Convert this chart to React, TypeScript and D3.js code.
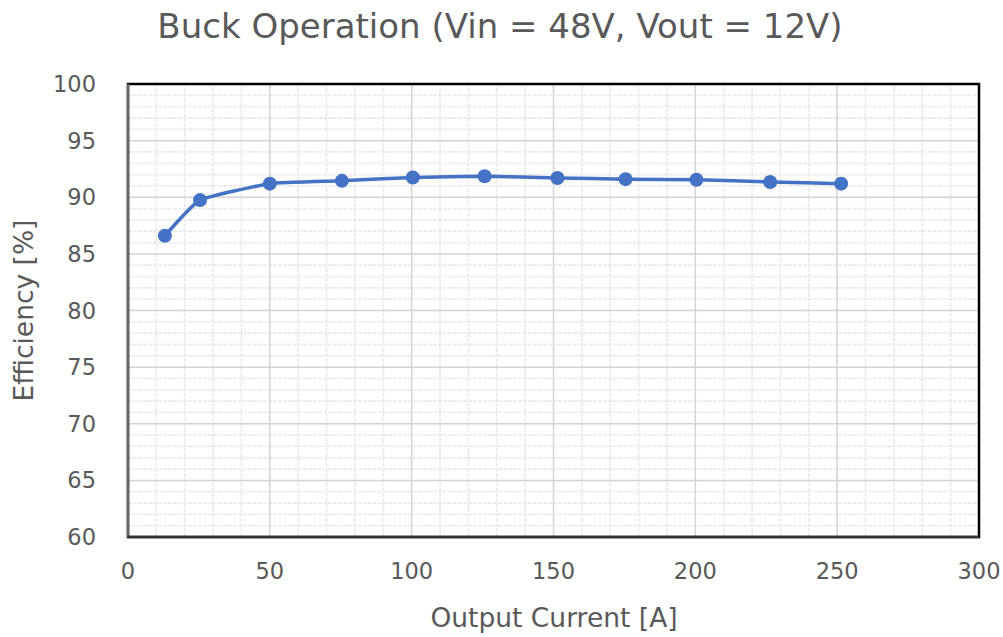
import React, { useRef, useEffect } from "react";
import * as d3 from "d3";

// Output current [A] and efficiency [%]
const currents = [13, 25.4, 50, 75.4, 100.4, 125.7, 151.4, 175.4, 200.4, 226.4, 251.4];
const efficiency = [86.6, 89.75, 91.2, 91.45, 91.75, 91.85, 91.7, 91.6, 91.55, 91.35, 91.2];
const xTicks = [0, 50, 100, 150, 200, 250, 300];
const yTicks = [60, 65, 70, 75, 80, 85, 90, 95, 100];

const App: React.FC = () => {
  const ref = useRef<SVGSVGElement | null>(null);

  useEffect(() => {
    const width = 1003;
    const height = 637;
    const margin = { top: 84, right: 24, bottom: 100, left: 128 };
    const font = "'DejaVu Sans', 'Noto Sans', sans-serif";
    const grey = "#595959";

    const svg = d3.select(ref.current);
    svg.selectAll("*").remove();
    svg.attr("width", width).attr("height", height);

    svg.append("rect").attr("width", width).attr("height", height).attr("fill", "#fff");

    const x = d3.scaleLinear().domain([0, 300]).range([margin.left, width - margin.right]);
    const y = d3.scaleLinear().domain([60, 100]).range([height - margin.bottom, margin.top]);

    const g = svg.append("g");

    // minor grid
    g.selectAll("line.xminor")
      .data(d3.range(0, 301, 10).filter((v) => v % 50 !== 0))
      .enter()
      .append("line")
      .attr("x1", (d) => x(d))
      .attr("x2", (d) => x(d))
      .attr("y1", y(60))
      .attr("y2", y(100))
      .attr("stroke", "#ebebeb")
      .attr("stroke-width", 1.8)
      .attr("stroke-dasharray", "4,1");
    g.selectAll("line.yminor")
      .data(d3.range(60, 101, 1).filter((v) => v % 5 !== 0))
      .enter()
      .append("line")
      .attr("x1", x(0))
      .attr("x2", x(300))
      .attr("y1", (d) => y(d))
      .attr("y2", (d) => y(d))
      .attr("stroke", "#ebebeb")
      .attr("stroke-width", 1.8)
      .attr("stroke-dasharray", "4,1");

    // major grid
    g.selectAll("line.xmajor")
      .data(xTicks)
      .enter()
      .append("line")
      .attr("x1", (d) => x(d))
      .attr("x2", (d) => x(d))
      .attr("y1", y(60))
      .attr("y2", y(100))
      .attr("stroke", "#d3d3d3")
      .attr("stroke-width", 1.5);
    g.selectAll("line.ymajor")
      .data(yTicks)
      .enter()
      .append("line")
      .attr("x1", x(0))
      .attr("x2", x(300))
      .attr("y1", (d) => y(d))
      .attr("y2", (d) => y(d))
      .attr("stroke", "#d3d3d3")
      .attr("stroke-width", 1.5);

    // plot border
    g.append("rect")
      .attr("x", x(0))
      .attr("y", y(100))
      .attr("width", x(300) - x(0))
      .attr("height", y(60) - y(100))
      .attr("fill", "none")
      .attr("stroke", "#000")
      .attr("stroke-width", 2.5);
    g.append("line")
      .attr("x1", x(0))
      .attr("x2", x(0))
      .attr("y1", y(60))
      .attr("y2", y(100))
      .attr("stroke", "#666")
      .attr("stroke-width", 2.5);
    g.append("line")
      .attr("x1", x(0))
      .attr("x2", x(300))
      .attr("y1", y(60))
      .attr("y2", y(60))
      .attr("stroke", "#333")
      .attr("stroke-width", 2.5);

    // tick labels
    g.selectAll("text.xt")
      .data(xTicks)
      .enter()
      .append("text")
      .attr("x", (d) => x(d))
      .attr("y", y(60) + 42)
      .attr("text-anchor", "middle")
      .attr("font-family", font)
      .attr("font-size", 22.5)
      .attr("fill", grey)
      .text((d) => d);
    g.selectAll("text.yt")
      .data(yTicks)
      .enter()
      .append("text")
      .attr("x", x(0) - 32)
      .attr("y", (d) => y(d))
      .attr("dy", "0.36em")
      .attr("text-anchor", "end")
      .attr("font-family", font)
      .attr("font-size", 22.5)
      .attr("fill", grey)
      .text((d) => d);

    // titles
    svg.append("text")
      .attr("x", 500)
      .attr("y", 38)
      .attr("text-anchor", "middle")
      .attr("font-family", font)
      .attr("font-size", 34)
      .attr("fill", grey)
      .text("Buck Operation (Vin = 48V, Vout = 12V)");
    svg.append("text")
      .attr("x", 554)
      .attr("y", 627)
      .attr("text-anchor", "middle")
      .attr("font-family", font)
      .attr("font-size", 26.5)
      .attr("fill", grey)
      .text("Output Current [A]");
    svg.append("text")
      .attr("transform", `translate(33, ${(y(60) + y(100)) / 2}) rotate(-90)`)
      .attr("text-anchor", "middle")
      .attr("font-family", font)
      .attr("font-size", 26.5)
      .attr("fill", grey)
      .text("Efficiency [%]");

    // series
    const pts = currents.map((c, i) => [c, efficiency[i]] as [number, number]);
    const line = d3
      .line<[number, number]>()
      .x((d) => x(d[0]))
      .y((d) => y(d[1]))
      .curve(d3.curveCardinal.tension(0.6));
    g.append("path")
      .attr("d", line(pts) as string)
      .attr("fill", "none")
      .attr("stroke", "#4472C4")
      .attr("stroke-width", 3.5);
    g.selectAll("circle")
      .data(pts)
      .enter()
      .append("circle")
      .attr("cx", (d) => x(d[0]))
      .attr("cy", (d) => y(d[1]))
      .attr("r", 7)
      .attr("fill", "#4472C4");
  }, []);

  return <svg ref={ref} style={{ position: "absolute", left: 0, top: 0 }} />;
};

export default App;
